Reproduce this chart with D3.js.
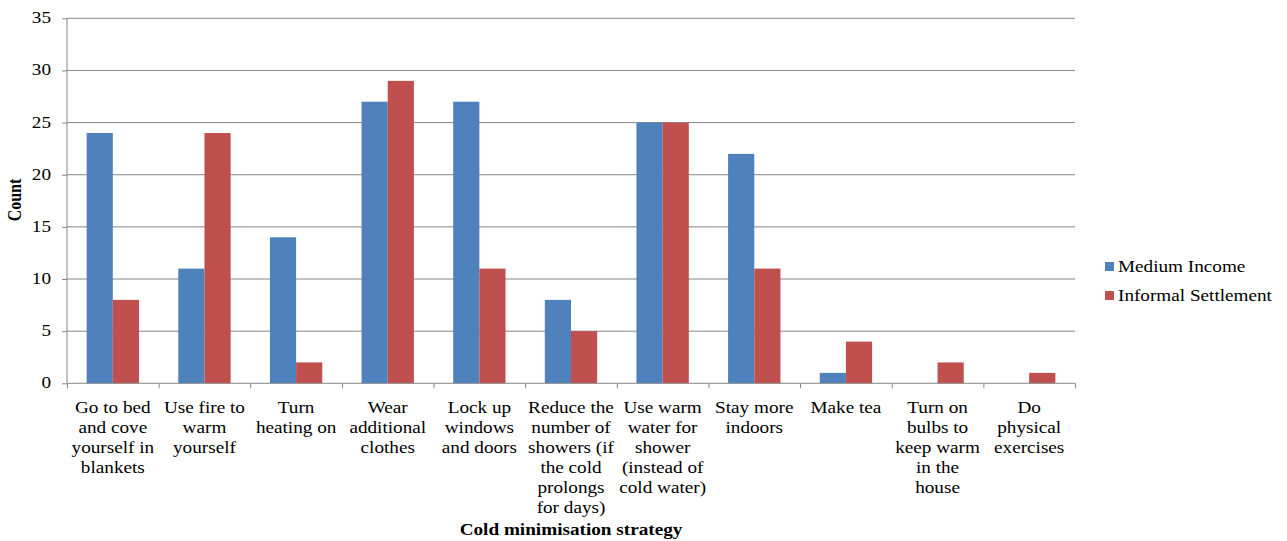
<!DOCTYPE html>
<html>
<head>
<meta charset="utf-8">
<script src="https://cdn.jsdelivr.net/npm/d3@7"></script>
<style>
  html, body { margin: 0; padding: 0; background: #fff; }
  svg { display: block; }
  svg text { font-family: "Liberation Serif", "Times New Roman", Times, "DejaVu Serif", serif; }
</style>
</head>
<body>
<svg id="chart" width="1287" height="541"></svg>
<script>
// ---- data ----
const categories = [
  "Go to bed|and cove|yourself in|blankets",
  "Use fire to|warm|yourself",
  "Turn|heating on",
  "Wear|additional|clothes",
  "Lock up|windows|and doors",
  "Reduce the|number of|showers (if|the cold|prolongs|for days)",
  "Use warm|water for|shower|(instead of|cold water)",
  "Stay more|indoors",
  "Make tea",
  "Turn on|bulbs to|keep warm|in the|house",
  "Do|physical|exercises"
];
const seriesNames = ["Medium Income", "Informal Settlement"];
const mediumIncome = [24, 11, 14, 27, 27, 8, 25, 22, 1, 0, 0];
const informalSettlement = [8, 24, 2, 29, 11, 5, 25, 11, 4, 2, 1];
const yTicks = [0, 5, 10, 15, 20, 25, 30, 35];
const colors = ["#4F81BD", "#C0504D"];
const yTitle = "Count";
const xTitle = "Cold minimisation strategy";

// ---- layout ----
const svg = d3.select("#chart");
const pLeft = 67, pRight = 1075, pTop = 18.3, pBottom = 383.3;
const SX = 1.2; // horizontal stretch of text in reference
const fontSize = 16;
const gridColor = "#868686";
const fontFam = "'Liberation Serif', 'Times New Roman', 'DejaVu Serif', serif";

const x = d3.scaleBand().domain(d3.range(categories.length)).range([pLeft, pRight]).paddingInner(0).paddingOuter(0);
const bw = x.bandwidth();
const gap = bw * 1.5 / 3.5;
const x1 = d3.scaleBand().domain([0, 1]).range([gap / 2, bw - gap / 2]).padding(0);
const y = d3.scaleLinear().domain([0, 35]).range([pBottom, pTop]);

function stretchedText(g, tx, ty, str, anchor, weight) {
  const t = g.append("text")
    .attr("transform", `translate(${tx},${ty}) scale(${SX},1)`)
    .attr("text-anchor", anchor || "middle")
    .attr("font-family", fontFam)
    .attr("font-size", fontSize)
    .attr("fill", "#000")
    .text(str);
  if (weight) t.attr("font-weight", weight);
  return t;
}

// gridlines
svg.append("g").selectAll("line").data(yTicks.filter(d => d > 0)).join("line")
  .attr("x1", pLeft).attr("x2", pRight)
  .attr("y1", d => y(d)).attr("y2", d => y(d))
  .attr("stroke", gridColor).attr("stroke-width", 1);

// bars
const values = [mediumIncome, informalSettlement];
const barG = svg.append("g");
values.forEach((vals, si) => {
  barG.selectAll(null).data(vals).join("rect")
    .attr("x", (d, i) => x(i) + x1(si))
    .attr("width", x1.bandwidth())
    .attr("y", d => y(d))
    .attr("height", d => y(0) - y(d))
    .attr("fill", colors[si]);
});

// y axis
const yAxis = d3.axisLeft(y).tickValues(yTicks).tickSize(5).tickFormat(d3.format("d"));
const yg = svg.append("g").attr("transform", `translate(${pLeft},0)`).call(yAxis);
yg.select(".domain").attr("stroke", gridColor).attr("d", `M0,${pBottom}V${pTop}`);
yg.selectAll(".tick line").attr("stroke", gridColor);
yg.selectAll(".tick text").remove();
yTicks.forEach(t => stretchedText(svg, 51, y(t) + 5, String(t), "end"));

// x axis
const xb = d3.scaleLinear().domain([0, categories.length]).range([pLeft, pRight]);
const xAxis = d3.axisBottom(xb).tickValues(d3.range(categories.length + 1)).tickSize(5).tickFormat("");
const xg = svg.append("g").attr("transform", `translate(0,${pBottom})`).call(xAxis);
xg.select(".domain").attr("stroke", gridColor).attr("d", `M${pLeft},0H${pRight}`);
xg.selectAll(".tick line").attr("stroke", gridColor);

// category labels
categories.forEach((c, i) => {
  const lines = c.split("|");
  const cx = x(i) + bw / 2;
  lines.forEach((ln, j) => stretchedText(svg, cx, 413 + j * 20, ln, "middle"));
});

// axis titles
stretchedText(svg, (pLeft + pRight) / 2, 535, xTitle, "middle", "bold");
svg.append("text")
  .attr("transform", `translate(21,200) rotate(-90) scale(1,${SX})`)
  .attr("text-anchor", "middle")
  .attr("font-family", fontFam)
  .attr("font-size", fontSize)
  .attr("font-weight", "bold")
  .text(yTitle);

// legend
const lg = svg.append("g");
seriesNames.forEach((s, i) => {
  const ly = 262 + i * 29;
  lg.append("rect").attr("x", 1105).attr("y", ly).attr("width", 9).attr("height", 9).attr("fill", colors[i]);
  stretchedText(lg, 1118, ly + 9.5, s, "start");
});
</script>
</body>
</html>
